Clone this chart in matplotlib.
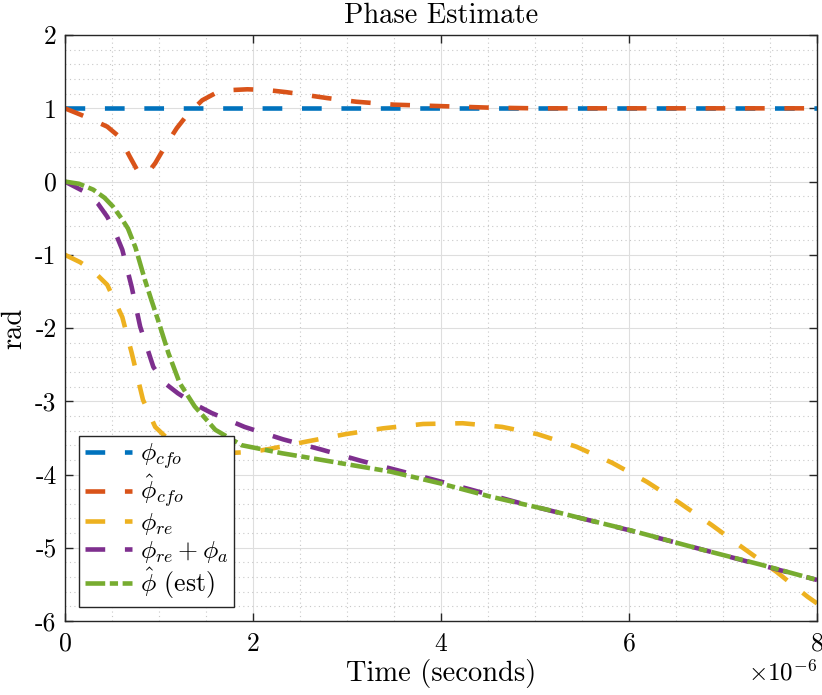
import matplotlib
matplotlib.use('Agg')
import matplotlib.pyplot as plt
import numpy as np
from matplotlib.ticker import MultipleLocator, ScalarFormatter, FuncFormatter

plt.rcParams['font.family'] = 'serif'
plt.rcParams['font.serif'] = ['cmr10']
plt.rcParams['mathtext.fontset'] = 'cm'
plt.rcParams['axes.unicode_minus'] = False
plt.rcParams['axes.formatter.use_mathtext'] = True

# time in microseconds
t_cfo = [0, 8]
phi_cfo = [1.0, 1.0]

t_cfo_hat = [0, 0.23, 0.45, 0.58, 0.69, 0.78, 0.84, 0.9, 0.96, 1.06, 1.19, 1.30, 1.46,
             1.62, 1.78, 1.94, 2.15, 2.36, 2.79, 3.1, 3.5, 4.0, 4.5, 5.0, 6.0, 7.0, 8.0]
phi_cfo_hat = [1.0, 0.88, 0.75, 0.61, 0.34, 0.13, 0.10, 0.15, 0.25, 0.47, 0.73, 0.91, 1.11,
               1.22, 1.25, 1.26, 1.25, 1.22, 1.14, 1.09, 1.05, 1.03, 1.01, 1.0, 1.0, 1.0, 1.0]

t_re = [0, 0.16, 0.3, 0.45, 0.61, 0.71, 0.83, 0.96, 1.1, 1.2, 1.4, 1.7, 2.0, 2.18, 2.57,
        2.98, 3.38, 3.81, 4.23, 4.65, 5.03, 5.44, 5.82, 6.19, 6.54, 6.88, 7.21, 7.57, 7.9, 8.0]
phi_re = [-1.0, -1.10, -1.22, -1.41, -1.85, -2.34, -2.98, -3.35, -3.52, -3.58, -3.66, -3.71,
          -3.69, -3.65, -3.55, -3.45, -3.37, -3.31, -3.30, -3.35, -3.45, -3.62, -3.84, -4.10,
          -4.39, -4.69, -5.0, -5.33, -5.67, -5.76]

t_re_a = [0, 0.21, 0.35, 0.45, 0.53, 0.61, 0.71, 0.8, 0.94, 1.05, 1.2, 1.38, 1.56, 1.91,
          2.32, 2.73, 3.14, 3.53, 3.92, 4.3, 4.84, 5.5, 6.0, 7.0, 8.0]
phi_re_a = [0, -0.14, -0.3, -0.48, -0.68, -0.93, -1.44, -1.98, -2.53, -2.74, -2.89, -3.04,
            -3.16, -3.35, -3.52, -3.66, -3.81, -3.94, -4.07, -4.2, -4.39, -4.60, -4.76,
            -5.10, -5.44]

t_est = [0, 0.15, 0.3, 0.42, 0.51, 0.6, 0.67, 0.75, 0.85, 0.92, 0.99, 1.1, 1.22, 1.38, 1.6,
         1.88, 2.31, 2.59, 3.0, 3.46, 3.99, 4.52, 5.13, 5.5, 6.01, 6.79, 7.4, 8.0]
phi_est = [0, -0.03, -0.11, -0.22, -0.34, -0.50, -0.64, -0.90, -1.34, -1.62, -1.89, -2.34,
           -2.75, -3.07, -3.39, -3.60, -3.71, -3.77, -3.86, -3.96, -4.12, -4.30, -4.48,
           -4.60, -4.76, -5.03, -5.23, -5.44]

labels = [r'$\phi_{cfo}$', r'$\hat{\phi}_{cfo}$', r'$\phi_{re}$',
          r'$\phi_{re} + \phi_a$', r'$\hat{\phi}$ (est)']
colors = ['#0072BD', '#D95319', '#EDB120', '#7E2F8E', '#77AC30']

fig = plt.figure(figsize=(8.22, 6.95), dpi=100)
ax = fig.add_axes([0.079, 0.1065, 0.915, 0.843])

lw = 3.3
dash = (4.3, 4.3)
series = [(t_cfo, phi_cfo), (t_cfo_hat, phi_cfo_hat), (t_re, phi_re), (t_re_a, phi_re_a)]
for (t, y), c, lab in zip(series, colors[:4], labels[:4]):
    ax.plot(np.array(t) * 1e-6, y, color=c, lw=lw, dashes=dash, label=lab)
ax.plot(np.array(t_est) * 1e-6, phi_est, color=colors[4], lw=lw,
        dashes=(4.3, 1.0, 1.8, 1.0), label=labels[4])

ax.set_xlim(0, 8e-6)
ax.set_ylim(-6, 2)
ax.xaxis.set_major_locator(MultipleLocator(2e-6))
ax.xaxis.set_minor_locator(MultipleLocator(0.5e-6))
ax.yaxis.set_major_locator(MultipleLocator(1))
ax.yaxis.set_minor_locator(MultipleLocator(0.2))
fmt = ScalarFormatter(useMathText=True)
fmt.set_powerlimits((-3, 3))
ax.xaxis.set_major_formatter(fmt)
ax.yaxis.set_major_formatter(FuncFormatter(lambda v, p: '%d' % round(v)))

ax.grid(which='major', color='#dedede', lw=0.8)
ax.grid(which='minor', color='#c8c8c8', lw=0.8, ls=(0, (1, 3)))
ax.set_axisbelow(True)
ax.tick_params(which='both', direction='in', top=True, right=True, labelsize=18.5,
               color='#262626')
ax.tick_params(which='major', length=6, width=1)
ax.tick_params(which='minor', length=0)
ax.tick_params(axis='x', pad=8)
ax.tick_params(axis='y', pad=6)
for s in ax.spines.values():
    s.set_color('#262626')
    s.set_linewidth(1)
ax.xaxis.get_offset_text().set_fontsize(18)

ax.set_xlabel('Time (seconds)', fontsize=20.5, labelpad=2)
ax.set_ylabel('rad', fontsize=20.5, labelpad=6)
ax.set_title('Phase Estimate', fontsize=20.5, pad=9)

leg = ax.legend(loc='lower left', fontsize=18.5, fancybox=False, edgecolor='#262626',
                framealpha=1, handlelength=1.85, handletextpad=0.3, labelspacing=0.05,
                borderpad=0.22, borderaxespad=0.55)
leg.get_frame().set_linewidth(1)

plt.savefig('out.png', dpi=100)
